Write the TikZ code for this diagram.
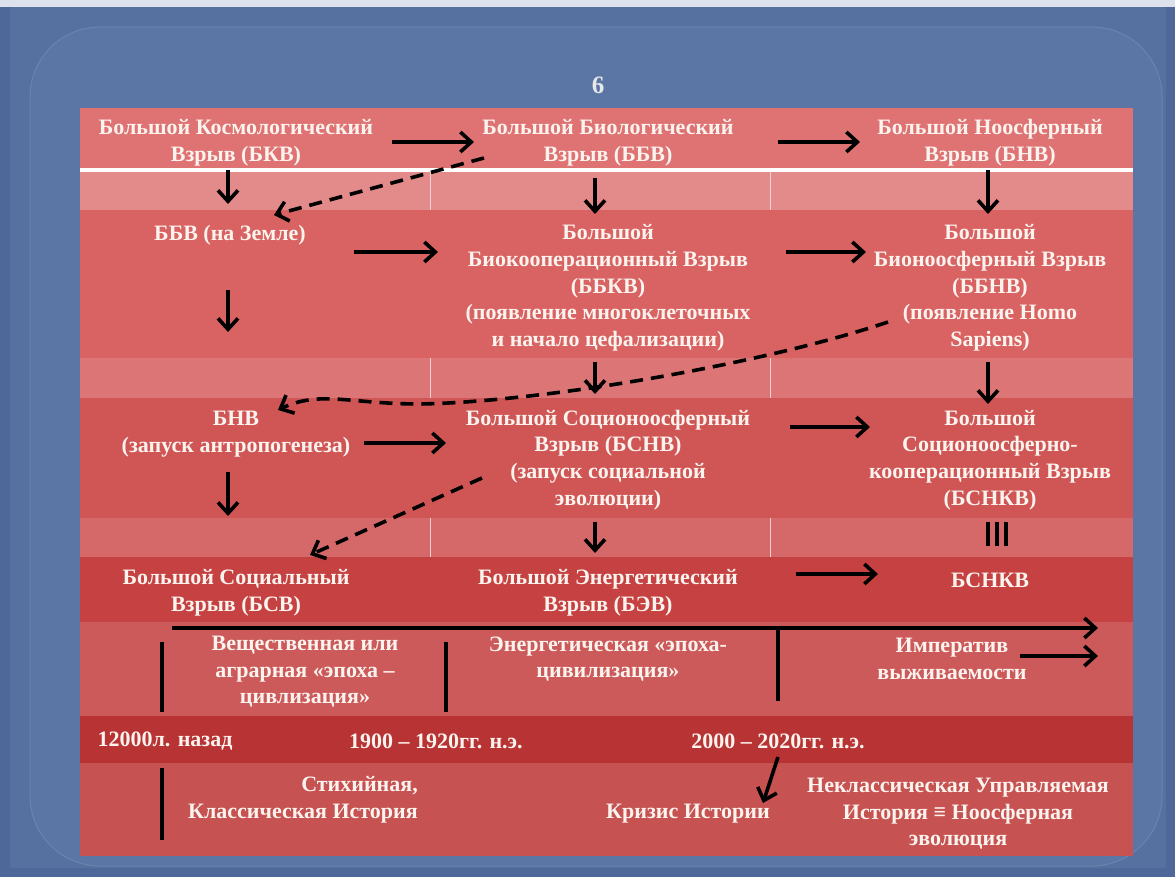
\documentclass[tikz,border=0pt]{standalone}
\usepackage{fontspec}
\setmainfont{Liberation Serif}
\usetikzlibrary{arrows.meta}
\definecolor{bgout}{HTML}{4E6999}
\definecolor{bgin}{HTML}{5670A0}
\definecolor{panel}{HTML}{5B75A5}
\definecolor{panelline}{HTML}{6A83B0}
\definecolor{textc}{HTML}{FBF3EE}
\definecolor{rowA}{HTML}{DF7373}
\definecolor{bandA}{HTML}{E38A8A}
\definecolor{rowB}{HTML}{D96262}
\definecolor{bandB}{HTML}{DC7676}
\definecolor{rowC}{HTML}{D05656}
\definecolor{bandC}{HTML}{D56969}
\definecolor{rowD}{HTML}{C64242}
\definecolor{rowE}{HTML}{CC5A5A}
\definecolor{rowF}{HTML}{B83333}
\definecolor{rowG}{HTML}{C75252}
\begin{document}
\begin{tikzpicture}[x=1pt,y=-1pt,
  txt/.style={text=textc, font=\bfseries\fontsize{22}{26.7}\selectfont, align=center, inner sep=0pt},
  arr/.style={line width=3.6pt, -{Straight Barb[length=11pt,width=20pt]}},
  dsh/.style={arr, dash pattern=on 13pt off 8pt},
  bar/.style={line width=3.5pt}]
\useasboundingbox (0,0) rectangle (1175,877);
% background
\fill[bgout] (0,0) rectangle (1175,877);
\fill[white!80!bgout] (0,0) rectangle (1175,7);
\fill[bgin] (10,7) rectangle (1166,868);
\draw[panelline, fill=panel, rounded corners=70pt, line width=1pt] (30,27) rectangle (1162,866);
\node[text=white!82!gray, font=\bfseries\fontsize{25}{25}\selectfont, inner sep=0pt] (num) at (598,85) {6};
% rows
\fill[rowA] (80,108) rectangle (1133,168);
\fill[white] (80,168) rectangle (1133,172);
\fill[bandA] (80,172) rectangle (1133,210);
\fill[rowB] (80,210) rectangle (1133,358);
\fill[bandB] (80,358) rectangle (1133,398);
\fill[rowC] (80,398) rectangle (1133,518);
\fill[bandC] (80,518) rectangle (1133,557);
\fill[rowD] (80,557) rectangle (1133,622);
\fill[rowE] (80,622) rectangle (1133,716);
\fill[rowF] (80,716) rectangle (1133,763);
\fill[rowG] (80,763) rectangle (1133,856);
\draw[white!60!bandA, line width=0.6pt] (430,172) -- (430,210) (770,172) -- (770,210)
  (430,358) -- (430,398) (770,358) -- (770,398) (430,518) -- (430,557) (770,518) -- (770,557);
% row 1
\node[txt] (bkv) at (236,143) {Большой Космологический\\Взрыв (БКВ)};
\node[txt] (bbv) at (608,143) {Большой Биологический\\Взрыв (ББВ)};
\node[txt] (bnv) at (990,143) {Большой Ноосферный\\Взрыв (БНВ)};
% row 2
\node[txt] (bbvz) at (230,235) {ББВ (на Земле)};
\node[txt] (bbkv) at (608,288) {Большой\\Биокооперационный Взрыв\\(ББКВ)\\(появление многоклеточных\\и начало цефализации)};
\node[txt] (bbnv) at (990,288) {Большой\\Бионоосферный Взрыв\\(ББНВ)\\(появление Homo\\Sapiens)};
% row 3
\node[txt] (bnv2) at (236,434) {БНВ\\(запуск антропогенеза)};
\node[txt] (bsnv) at (608,460) {Большой Соционоосферный\\Взрыв (БСНВ)\\(запуск социальной\\эволюции)};
\node[txt] (bsnkv) at (990,460) {Большой\\Соционоосферно-\\кооперационный Взрыв\\(БСНКВ)};
% row 4
\node[txt] (bsv) at (236,593) {Большой Социальный\\Взрыв (БСВ)};
\node[txt] (bev) at (608,593) {Большой Энергетический\\Взрыв (БЭВ)};
\node[txt] (bsnkv2) at (990,580) {БСНКВ};
% row 5
\node[txt] (ep1) at (305,672) {Вещественная или\\аграрная «эпоха –\\цивлизация»};
\node[txt] (ep2) at (608,659) {Энергетическая «эпоха-\\цивилизация»};
\node[txt] (imp) at (952,659) {Императив\\выживаемости};
% row 6
\node[txt] (d1) at (165,741) {12000л. назад};
\node[txt] (d2) at (436,741) {1900 – 1920гг. н.э.};
\node[txt] (d3) at (778,741) {2000 – 2020гг. н.э.};
% row 7
\node[txt, align=right, anchor=east] (hist1) at (418,800) {Стихийная,\\Классическая История};
\node[txt] (crisis) at (688,814) {Кризис Истории};
\node[txt] (neo) at (958,814) {Неклассическая Управляемая\\История ≡ Ноосферная\\эволюция};
% coordinates
\coordinate (a1s) at (392,142); \coordinate (a1e) at (474,142);
\coordinate (a2s) at (778,142); \coordinate (a2e) at (860,142);
\coordinate (a3s) at (354,252); \coordinate (a3e) at (438,252);
\coordinate (a4s) at (786,252); \coordinate (a4e) at (866,252);
\coordinate (a5s) at (364,443); \coordinate (a5e) at (446,443);
\coordinate (a6s) at (790,427); \coordinate (a6e) at (870,427);
\coordinate (a7s) at (796,574); \coordinate (a7e) at (878,574);
\coordinate (a8s) at (1020,656); \coordinate (a8e) at (1098,656);
\coordinate (tl0) at (172,628); \coordinate (tl1) at (1098,628);
% horizontal arrows
\draw[arr] (a1s) -- (a1e);
\draw[arr] (a2s) -- (a2e);
\draw[arr] (a3s) -- (a3e);
\draw[arr] (a4s) -- (a4e);
\draw[arr] (a5s) -- (a5e);
\draw[arr] (a6s) -- (a6e);
\draw[arr] (a7s) -- (a7e);
\draw[arr] (a8s) -- (a8e);
% vertical arrows
\draw[arr] (228,170) -- (228,204);
\draw[arr] (595,178) -- (595,214);
\draw[arr] (988,170) -- (988,214);
\draw[arr] (228,290) -- (228,332);
\draw[arr] (595,362) -- (595,394);
\draw[arr] (988,362) -- (988,404);
\draw[arr] (228,472) -- (228,516);
\draw[arr] (595,522) -- (595,553);
% dashed arrows
\draw[dsh] (484,158) -- (274,215);
\draw[dsh] (888,322) .. controls (760,365) and (540,402) .. (420,404) .. controls (350,404) and (320,390) .. (278,410);
\draw[dsh] (482,478) -- (310,555);
% equivalence bars
\draw[bar] (988,522) -- (988,546) (997,522) -- (997,546) (1006,522) -- (1006,546);
% timeline
\draw[arr] (tl0) -- (tl1);
\draw[bar] (778,628) -- (778,701);
\draw[bar] (162,642) -- (162,712);
\draw[bar] (446,642) -- (446,712);
\draw[bar] (162,768) -- (162,840);
\draw[arr] (778,757) -- (763,803);
\end{tikzpicture}
\end{document}
